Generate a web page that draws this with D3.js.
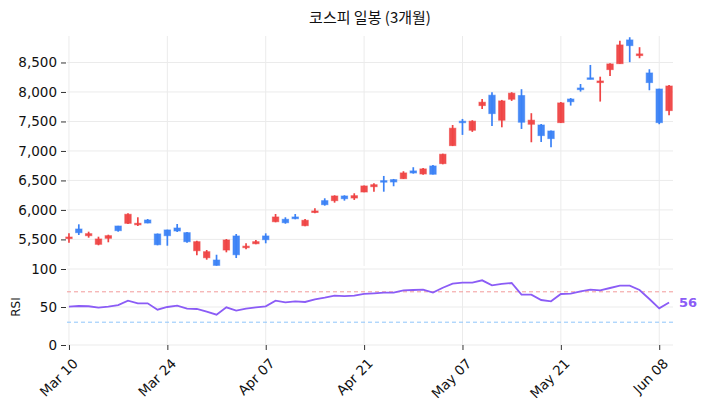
<!DOCTYPE html>
<html>
<head>
<meta charset="utf-8">
<script src="https://cdn.jsdelivr.net/npm/d3@7"></script>
<style>
  body { margin: 0; background: #fff; }
  svg text { font-family: "DejaVu Sans", "Noto Sans", sans-serif; }
</style>
</head>
<body>
<div id="chart"></div>
<script>
// trading days (KRX), 3 months
var dates = [
  '2026-03-10','2026-03-11','2026-03-12','2026-03-13','2026-03-16','2026-03-17','2026-03-18','2026-03-19','2026-03-20',
  '2026-03-23','2026-03-24','2026-03-25','2026-03-26','2026-03-27','2026-03-30','2026-03-31',
  '2026-04-01','2026-04-02','2026-04-03','2026-04-06','2026-04-07','2026-04-08','2026-04-09','2026-04-10',
  '2026-04-13','2026-04-14','2026-04-15','2026-04-16','2026-04-17','2026-04-20','2026-04-21','2026-04-22',
  '2026-04-23','2026-04-24','2026-04-27','2026-04-28','2026-04-29','2026-04-30',
  '2026-05-04','2026-05-06','2026-05-07','2026-05-08','2026-05-11','2026-05-12','2026-05-13','2026-05-14',
  '2026-05-15','2026-05-18','2026-05-19','2026-05-20','2026-05-21','2026-05-22','2026-05-26','2026-05-27',
  '2026-05-28','2026-05-29','2026-06-01','2026-06-02','2026-06-04','2026-06-05','2026-06-08','2026-06-09'
];

var open = [5530,5676,5563,5417,5519,5727,5773,5756,5829,5592,5660,5693,5614,5308,5189,5150,5320,5558,5375,5427,
  5558,5800,5841,5880,5733,5960,6157,6157,6236,6202,6304,6394,6496,6513,6530,6661,6610,6745,6785,7090,
  7504,7351,7769,7945,7521,7877,7939,7453,7440,7338,7480,7880,8067,8239,8159,8379,8480,8882,8617,8322,8050,7684];
var high = [5603,5756,5631,5546,5580,5730,5943,5875,5846,5600,5665,5761,5625,5478,5320,5240,5507,5592,5434,5490,
  5603,5931,5875,5931,5846,6028,6197,6248,6248,6282,6415,6452,6576,6525,6656,6724,6712,6762,6954,7440,
  7543,7521,7882,7996,7865,7996,8047,7640,7457,7345,7831,7897,8135,8458,8259,8487,8870,8928,8759,8385,8055,8118];
var low = [5444,5575,5529,5400,5451,5631,5761,5727,5773,5400,5393,5626,5444,5230,5156,5054,5281,5184,5332,5417,
  5434,5790,5766,5841,5722,5943,6072,6123,6157,6169,6300,6309,6309,6401,6525,6615,6598,6600,6773,7083,
  7272,7323,7712,7424,7401,7848,7373,7147,7152,7063,7475,7769,8006,8215,7837,8271,8480,8505,8572,8029,7453,7606];
var close = [5540,5614,5597,5507,5563,5648,5926,5773,5778,5410,5563,5643,5461,5461,5291,5060,5490,5240,5385,5461,
  5495,5880,5783,5851,5824,5982,6089,6236,6190,6241,6406,6427,6474,6474,6627,6627,6695,6605,6944,7385,
  7480,7504,7826,7633,7848,7979,7487,7521,7260,7209,7814,7835,8039,8222,8186,8475,8797,8786,8645,8159,7480,8101];

var rsi = [50.4,51.3,51,49.1,50.4,52.6,58.3,54.8,54.8,46.5,50,51.8,47.8,47.4,43.9,39.9,49.6,45.2,48,49.6,
  50.9,58.3,56.1,57.5,56.6,60.1,62.3,64.9,64.3,64.9,67.3,68,68.9,68.9,71.9,72.4,72.8,68.9,75.4,80.7,
  82,82,85.1,78.5,80.3,81.6,66.2,66.2,59.2,57.5,67.1,67.5,70.6,72.8,72,75,78,78,72.4,60.5,48.2,56];

var priceTicks = [5500, 6000, 6500, 7000, 7500, 8000, 8500];
var rsiTicks = [0, 50, 100];
var rsiLevels = [70, 30];
var dateTickIdx = [0, 10, 20, 30, 40, 50, 60];

var W = 706, H = 411;
var left = 67, right = 673;
var upTop = 36, upBottom = 266;
var lowTop = 269, lowBottom = 345;

var UP = '#ef4444', DOWN = '#3b82f6', RSI_C = '#8b5cf6';

var parse = d3.timeParse('%Y-%m-%d');
var fmt = d3.timeFormat('%b %d');

var svg = d3.select('#chart').append('svg')
  .attr('width', W)
  .attr('height', H);

var x = d3.scaleLinear().domain([-0.2, 61.4]).range([left, right]);
var y = d3.scaleLinear().domain([5049, 8949]).range([upBottom, upTop]);
var yR = d3.scaleLinear().domain([0, 100]).range([lowBottom, lowTop]);

// grid
var grid = svg.append('g').attr('stroke', '#ebebeb').attr('stroke-width', 1);
grid.selectAll('.hu').data(priceTicks).enter().append('line')
  .attr('x1', left).attr('x2', right)
  .attr('y1', function(d) { return y(d); }).attr('y2', function(d) { return y(d); });
grid.selectAll('.hl').data(rsiTicks).enter().append('line')
  .attr('x1', left).attr('x2', right)
  .attr('y1', function(d) { return yR(d); }).attr('y2', function(d) { return yR(d); });
grid.selectAll('.vu').data(dateTickIdx).enter().append('line')
  .attr('x1', function(d) { return x(d); }).attr('x2', function(d) { return x(d); })
  .attr('y1', upTop).attr('y2', upBottom);
grid.selectAll('.vl').data(dateTickIdx).enter().append('line')
  .attr('x1', function(d) { return x(d); }).attr('x2', function(d) { return x(d); })
  .attr('y1', lowTop).attr('y2', lowBottom);

// axes
function styleAxis(g) {
  g.select('.domain').remove();
  g.selectAll('.tick line').attr('stroke', '#333');
  g.selectAll('.tick text').attr('fill', '#111').style('font-size', '13.5px');
}

svg.append('g')
  .attr('transform', 'translate(' + (left - 1) + ',0)')
  .call(d3.axisLeft(y).tickValues(priceTicks).tickFormat(d3.format(',')).tickSize(5).tickPadding(4))
  .call(styleAxis);

svg.append('g')
  .attr('transform', 'translate(' + (left - 1) + ',0)')
  .call(d3.axisLeft(yR).tickValues(rsiTicks).tickSize(5).tickPadding(4))
  .call(styleAxis);

var xAxis = svg.append('g')
  .attr('transform', 'translate(0,' + lowBottom + ')')
  .call(d3.axisBottom(x).tickValues(dateTickIdx)
    .tickFormat(function(i) { return fmt(parse(dates[i])); })
    .tickSize(5).tickPadding(2))
  .call(styleAxis);
xAxis.selectAll('.tick text')
  .attr('text-anchor', 'end')
  .attr('dy', '0.35em')
  .attr('transform', 'translate(1,11) rotate(-45)');

// candles
var idx = d3.range(dates.length);
var candles = svg.append('g').selectAll('g').data(idx).enter().append('g');
candles.append('line')
  .attr('x1', function(i) { return x(i); }).attr('x2', function(i) { return x(i); })
  .attr('y1', function(i) { return y(high[i]); }).attr('y2', function(i) { return y(low[i]); })
  .attr('stroke', function(i) { return close[i] >= open[i] ? UP : DOWN; })
  .attr('stroke-width', 1.7);
candles.append('rect')
  .attr('x', function(i) { return x(i) - 3.2; })
  .attr('width', 6.4)
  .attr('y', function(i) { return y(Math.max(open[i], close[i])); })
  .attr('height', function(i) { return Math.max(1.5, Math.abs(y(open[i]) - y(close[i]))); })
  .attr('fill', function(i) { return close[i] >= open[i] ? UP : DOWN; })
  .attr('fill-opacity', 0.95)
  .attr('stroke', function(i) { return close[i] >= open[i] ? UP : DOWN; })
  .attr('stroke-opacity', 0.6)
  .attr('stroke-width', 1);

// rsi panel
svg.selectAll('.lvl').data(rsiLevels).enter().append('line')
  .attr('x1', left).attr('x2', right)
  .attr('y1', function(d) { return yR(d); }).attr('y2', function(d) { return yR(d); })
  .attr('stroke', function(d) { return d === 70 ? '#f29a9a' : '#8ec5fb'; })
  .attr('stroke-width', 1)
  .attr('stroke-dasharray', '4,3');

var line = d3.line()
  .x(function(d, i) { return x(i); })
  .y(function(d) { return yR(d); });

svg.append('path')
  .datum(rsi)
  .attr('d', line)
  .attr('fill', 'none')
  .attr('stroke', RSI_C)
  .attr('stroke-width', 1.8);

svg.append('text')
  .attr('x', 679)
  .attr('y', yR(rsi[rsi.length - 1]))
  .attr('dy', '0.35em')
  .attr('fill', RSI_C)
  .style('font-size', '13px')
  .style('font-weight', 'bold')
  .text(Math.round(rsi[rsi.length - 1]));

svg.append('text')
  .attr('transform', 'translate(20,' + yR(50) + ') rotate(-90)')
  .attr('text-anchor', 'middle')
  .attr('fill', '#111')
  .style('font-size', '12px')
  .text('RSI');

svg.append('text')
  .attr('x', (left + right) / 2)
  .attr('y', 23)
  .attr('text-anchor', 'middle')
  .attr('fill', '#111')
  .style('font-family', '"Noto Sans CJK KR", sans-serif')
  .style('font-size', '15px')
  .text('코스피 일봉 (3개월)');
</script>
</body>
</html>
